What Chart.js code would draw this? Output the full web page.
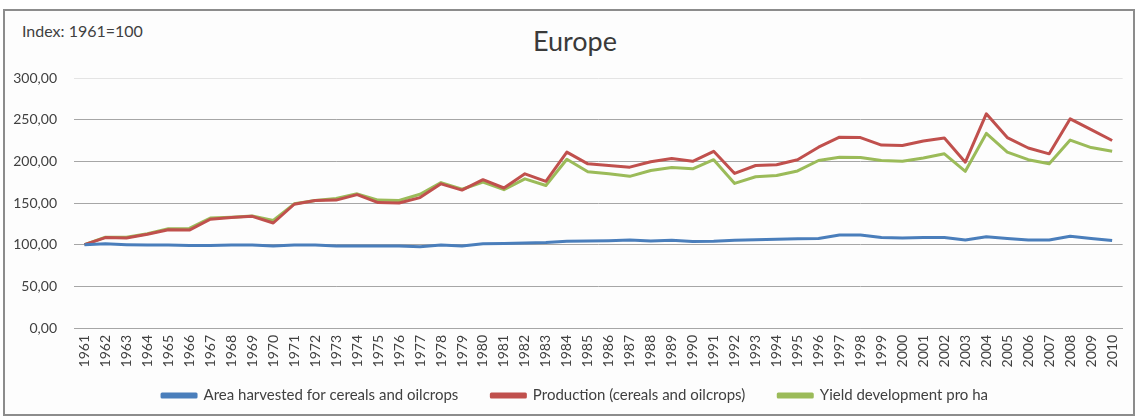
<!DOCTYPE html>
<html>
<head>
<meta charset="utf-8">
<script src="https://cdn.jsdelivr.net/npm/chart.js@4/dist/chart.umd.min.js"></script>
<style>
  html, body { margin: 0; padding: 0; background: #ffffff; }
  #wrap { position: relative; width: 1136px; height: 417px; overflow: hidden; }
  #frame { position: absolute; left: 3px; top: 9px; width: 1128px; height: 403px;
           border: 2px solid #8c8c8c; background: #fdfdfd; }
  #idx { position: absolute; left: 22px; top: 21px; font: 16px/1.2 Lato, sans-serif; color: #404040; }
  #ttl { position: absolute; left: 7px; width: 1136px; top: 25px; text-align: center;
         font: 27px/1.2 Lato, sans-serif; color: #3a3a3a; }
  canvas { position: absolute; left: 0; top: 0; }
</style>
</head>
<body>
<div id="wrap">
  <div id="frame"></div>
  <div id="idx">Index: 1961=100</div>
  <div id="ttl">Europe</div>
  <canvas id="c" width="1136" height="417"></canvas>
</div>
<script>
const years = ["1961","1962","1963","1964","1965","1966","1967","1968","1969","1970",
  "1971","1972","1973","1974","1975","1976","1977","1978","1979","1980",
  "1981","1982","1983","1984","1985","1986","1987","1988","1989","1990",
  "1991","1992","1993","1994","1995","1996","1997","1998","1999","2000",
  "2001","2002","2003","2004","2005","2006","2007","2008","2009","2010"];

const areaHarvested = [100,101,100,99.5,99.5,99,99,99.5,99.5,98.5,
  99.5,99.5,98.5,98.5,98.5,98.5,97.5,99.5,98.5,101,
  101.5,102,102.5,104,104.5,104.8,105.5,104.5,105.2,103.8,
  104,105.2,106,106.5,107,107.5,111.5,111.5,108.5,108,
  108.5,108.5,105.5,109.5,107.5,105.5,105.5,110,107.5,105];

const production = [100,108.5,108,112.5,118,117.5,130.5,132.5,134,126,
  148.5,153,153.5,160,150.5,150,156.5,173,165.5,178,
  168,185,176,211,197,195,193,199.5,203.5,200,
  212,185.5,195,196,202,217,229,228.5,219.5,219,
  224.5,228,199,257,228.5,216,209,251,238,225];

const yieldPerHa = [100,109,109,113,119,119.5,132,133,134.5,129,
  149,153,155.5,161,153.5,153,160.5,174.5,166.5,175,
  166,179,171,202.5,187.5,185,182,189,192.5,191,
  202,173.5,181.5,183,188.5,201,205,204.5,201,200,
  204,209,188,233.5,211,202,197,225.5,216.5,212];

const seriesNames = ["Area harvested for cereals and oilcrops",
  "Production (cereals and oilcrops)", "Yield development pro ha"];
const yTicks = [0, 50, 100, 150, 200, 250, 300];

const colors = ["#4a7ebb", "#c0504d", "#9bbb59"];
const mk = (i, data) => ({
  label: seriesNames[i], data: data,
  borderColor: colors[i], backgroundColor: colors[i],
  borderWidth: 3, pointRadius: 0, tension: 0, borderJoinStyle: 'round'
});

const legendShift = {
  id: 'legendShift',
  afterLayout(chart) {
    const lg = chart.legend;
    if (lg) { lg.left += 8; lg.right += 8; }
  }
};

new Chart(document.getElementById('c'), {
  type: 'line',
  data: { labels: years, datasets: [mk(0, areaHarvested), mk(1, production), mk(2, yieldPerHa)] },
  plugins: [legendShift],
  options: {
    responsive: false, animation: false,
    layout: { padding: { left: 4, right: 6, top: 78, bottom: 4 } },
    plugins: {
      title: { display: false },
      tooltip: { enabled: false },
      legend: {
        position: 'bottom',
        labels: { boxWidth: 34, boxHeight: 3, padding: 33, color: '#404040',
                  font: { family: 'Lato', size: 15 } }
      }
    },
    scales: {
      x: {
        offset: true,
        grid: { display: false, drawTicks: false },
        border: { display: true, color: '#a6a6a6', width: 1 },
        ticks: { autoSkip: false, minRotation: 90, maxRotation: 90, padding: 7,
                 color: '#404040', font: { family: 'Lato', size: 14 } },
        afterFit: s => { s.height = 27; s._computeLabelArea = () => undefined; }
      },
      y: {
        min: 0, max: 300,
        afterBuildTicks: s => { s.ticks = yTicks.map(v => ({ value: v })); },
        grid: { drawTicks: false, lineWidth: 1,
                color: ctx => ctx.tick && ctx.tick.value === 300 ? '#e4e4e4' : '#a6a6a6' },
        border: { display: false },
        ticks: { padding: 17, color: '#404040', font: { family: 'Lato', size: 14 },
                 callback: v => v.toFixed(2).replace('.', ',') },
        afterFit: s => { s.width = 70; }
      }
    }
  }
});
</script>
</body>
</html>
